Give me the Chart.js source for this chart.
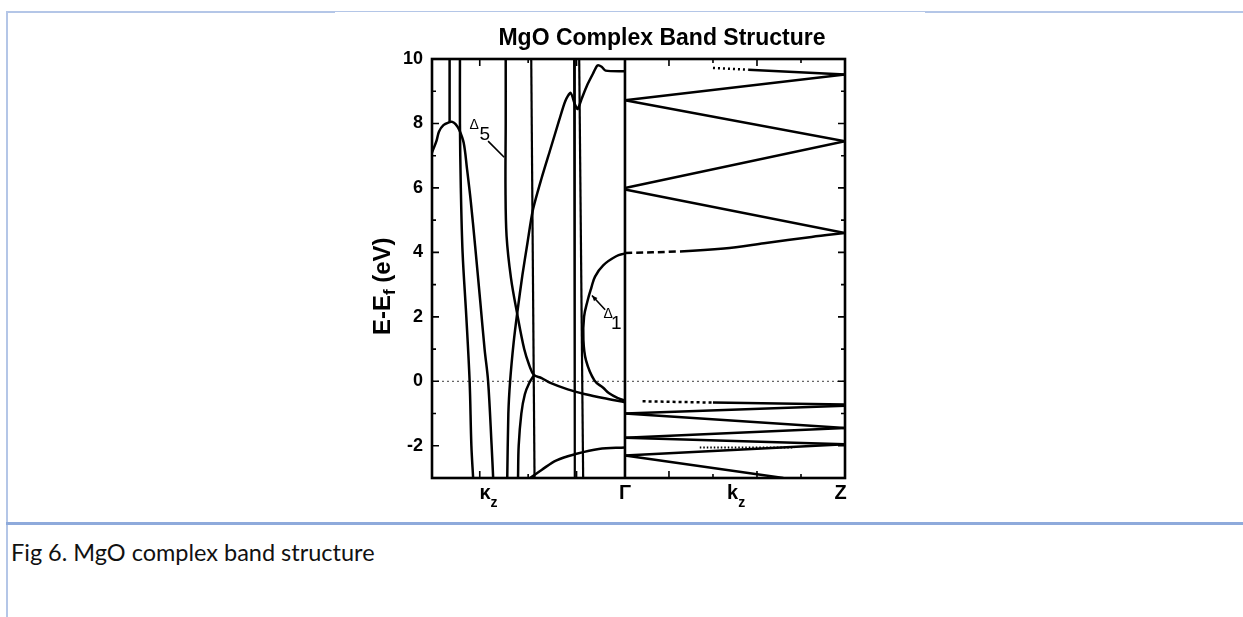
<!DOCTYPE html>
<html>
<head>
<meta charset="utf-8">
<title>MgO Complex Band Structure</title>
<script src="https://cdn.jsdelivr.net/npm/chart.js@4.4.1/dist/chart.umd.min.js"></script>
<style>
  html, body { margin: 0; padding: 0; background: #fff; }
  body { width: 1243px; height: 617px; position: relative; overflow: hidden; }
  .rule { position: absolute; background: #b4c6e7; }
  #chartBox { position: absolute; left: 300px; top: 15px; width: 660px; height: 500px; }
  #caption { position: absolute; left: 11px; top: 541px; font-family: Lato, 'Open Sans', sans-serif; font-size: 23.5px; line-height: 1; color: #111; }
</style>
</head>
<body>
<!-- document frame -->
<div class="rule" style="left:6px;top:11px;width:2px;height:606px"></div>
<div class="rule" style="left:6px;top:11px;width:329px;height:2px"></div>
<div class="rule" style="left:335px;top:11px;width:590px;height:1px"></div>
<div class="rule" style="left:925px;top:11px;width:318px;height:2px"></div>
<div class="rule" style="left:6px;top:522px;width:1237px;height:3px;background:#8eaadb"></div>

<div id="chartBox"><canvas id="bandChart" width="660" height="500"></canvas></div>
<div id="caption">Fig 6. MgO complex band structure</div>

<script>
// axis ranges (k: left of Γ is the complex branch, right of Γ is real k to Z)
const kMin = -0.877, kMax = 1;
const eMin = -3, eMax = 10;
const yTickValues = [-2, 0, 2, 4, 6, 8, 10];
const yMinorValues = [-3, -1, 1, 3, 5, 7, 9];
const xMajorTicks = [-0.66, -0.22, 0.2, 0.6];
const xMinorTicks = [-0.44, 0.4, 0.8];
const xLabelPos = [-0.62, 0, 0.505, 0.98];
const xLabelMain = ['κ', 'Γ', 'k', 'Z'];
const xLabelSub = ['z', '', 'z', ''];

// complex bands (left panel)
const archK = [-0.877, -0.857, -0.845, -0.825, -0.797, -0.785, -0.770, -0.753, -0.733, -0.718, -0.701, -0.681, -0.658, -0.638, -0.622, -0.606, -0.599];
const archE = [7.1, 7.45, 7.75, 7.95, 8.04, 8.05, 7.98, 7.8, 7.4, 6.6, 5.6, 4.2, 2.5, 1.0, 0.0, -2.0, -3.0];
const steepK = [-0.750, -0.750, -0.746, -0.738, -0.721, -0.706, -0.698, -0.690];
const steepE = [10, 8, 6, 4, 2, 0, -2, -3];
const stubK = [-0.797, -0.797];
const stubE = [10, 8.04];
const delta5K = [-0.542, -0.542, -0.543, -0.538, -0.518, -0.490, -0.458, -0.435, -0.414, -0.379, -0.339, -0.260, -0.179, -0.099, 0];
const delta5E = [10, 8, 6, 4.5, 3.2, 2.1, 1.0, 0.5, 0.2, 0.1, -0.05, -0.25, -0.4, -0.52, -0.65];
const riseK = [-0.535, -0.530, -0.522, -0.506, -0.490, -0.466, -0.443, -0.419, -0.379, -0.339, -0.299, -0.271, -0.247, -0.228, -0.215, -0.195, -0.171, -0.145, -0.125, -0.106, -0.088, 0];
const riseE = [-3, -1, 0, 1.2, 2.1, 3.3, 4.3, 5.3, 6.3, 7.2, 8.1, 8.7, 8.95, 8.6, 8.45, 8.8, 9.2, 9.55, 9.8, 9.76, 9.64, 9.62];
const wallAK = [-0.426, -0.411];
const wallBK = [-0.231, -0.228];
const wallCK = [-0.208, -0.190];
const wallE = [10, -3];
const hookK = [-0.486, -0.483, -0.471, -0.455, -0.435, -0.414];
const hookE = [-3, -2, -1, -0.4, -0.05, 0.18];
const lowK = [-0.431, -0.379, -0.311, -0.220, -0.119, 0];
const lowE = [-3, -2.75, -2.45, -2.25, -2.1, -2.05];
const delta1K = [0, -0.040, -0.099, -0.136, -0.153, -0.170, -0.186, -0.189, -0.177, -0.139, -0.099, -0.072, -0.032, 0];
const delta1E = [3.97, 3.88, 3.6, 3.25, 2.9, 2.5, 2.0, 1.3, 0.65, 0.03, -0.2, -0.37, -0.52, -0.6];

// real bands (right panel), straight from Γ to Z
const realK = [0, 1];
const realStartE = [8.72, 8.72, 6.0, 5.95, -1.0, -1.0, -1.75, -1.75, -2.3];
const realEndE = [9.52, 7.45, 7.45, 4.6, -0.76, -1.45, -1.45, -1.95, -1.95];
const bendK = [0, 0.25, 0.45, 0.632, 0.848, 1];
const bendE = [3.98, 4.03, 4.12, 4.28, 4.48, 4.6];
const topK = [0.4, 0.56, 1];
const topE = [9.72, 9.67, 9.52];
const shallowK = [0.08, 0.4, 1];
const shallowE = [-0.62, -0.66, -0.72];
const dropK = [0, 0.72];
const dropE = [-2.3, -3];
const faintK = [0.34, 0.77];
const faintE = [-2.05, -2.05];

// annotation anchors (data coords): symbol k, E, subscript k, E
const delta5Label = [-0.685, 7.95, -0.637, 7.65];
const delta5Leader = [-0.622, 7.45, -0.549, 6.95];
const delta1Label = [-0.076, 2.08, -0.040, 1.8];
const delta1Leader = [-0.09, 2.22, -0.15, 2.66];

function band(ks, es, extra) {
    return Object.assign({
        data: ks.map((k, i) => ({ x: k, y: es[i] })),
        borderColor: '#000',
        borderWidth: 2.5,
        pointRadius: 0,
        fill: false,
        tension: 0.35
    }, extra || {});
}

const firstDashed = dash => ({ borderDash: c => c.p0DataIndex === 0 ? dash : undefined });

const datasets = [
    band(archK, archE),
    band(steepK, steepE),
    band(stubK, stubE, { tension: 0 }),
    band(delta5K, delta5E),
    band(riseK, riseE, { tension: 0.25 }),
    band(wallAK, wallE, { tension: 0, borderWidth: 2.2 }),
    band(wallBK, wallE, { tension: 0, borderWidth: 2.2 }),
    band(wallCK, wallE, { tension: 0, borderWidth: 2.2 }),
    band(hookK, hookE),
    band(lowK, lowE),
    band(delta1K, delta1E, { tension: 0.4 }),
    band(bendK, bendE, { segment: firstDashed([7, 4]) }),
    band(topK, topE, { tension: 0, segment: firstDashed([2, 3]) }),
    band(shallowK, shallowE, { tension: 0, segment: firstDashed([3, 3]) }),
    band(dropK, dropE, { tension: 0 }),
    band(faintK, faintE, { tension: 0, borderWidth: 2, borderDash: [1.5, 2] })
];
realStartE.forEach((e0, i) => {
    datasets.push(band(realK, [e0, realEndE[i]], { tension: 0 }));
});

const FONT = 'Arial, "Liberation Sans", sans-serif';

// frame, inward ticks, zero line and the extra text
const bandDecor = {
    id: 'bandDecor',
    beforeDatasetsDraw(chart) {
        const { ctx, chartArea: a, scales: { y } } = chart;
        const y0 = y.getPixelForValue(0);
        ctx.save();
        ctx.strokeStyle = '#666';
        ctx.lineWidth = 1.2;
        ctx.setLineDash([2, 3]);
        ctx.beginPath();
        ctx.moveTo(a.left, y0);
        ctx.lineTo(a.right, y0);
        ctx.stroke();
        ctx.restore();
    },
    afterDatasetsDraw(chart) {
        const { ctx, chartArea: a, scales: { x, y } } = chart;
        ctx.save();
        ctx.strokeStyle = '#000';
        ctx.lineWidth = 2.6;
        ctx.strokeRect(a.left, a.top, a.right - a.left, a.bottom - a.top);
        const xg = x.getPixelForValue(0);
        ctx.beginPath();
        ctx.moveTo(xg, a.top);
        ctx.lineTo(xg, a.bottom);
        ctx.stroke();

        ctx.lineWidth = 1.6;
        ctx.beginPath();
        const yTick = (v, len) => {
            const py = y.getPixelForValue(v);
            ctx.moveTo(a.left, py); ctx.lineTo(a.left + len, py);
            ctx.moveTo(a.right, py); ctx.lineTo(a.right - len, py);
        };
        const xTick = (v, len) => {
            const px = x.getPixelForValue(v);
            ctx.moveTo(px, a.top); ctx.lineTo(px, a.top + len);
            ctx.moveTo(px, a.bottom); ctx.lineTo(px, a.bottom - len);
        };
        yTickValues.forEach(v => yTick(v, 7));
        yMinorValues.forEach(v => yTick(v, 4));
        xMajorTicks.forEach(v => xTick(v, 7));
        xMinorTicks.forEach(v => xTick(v, 4));
        ctx.stroke();

        // leader lines for the Δ labels
        ctx.lineWidth = 1.6;
        ctx.beginPath();
        ctx.moveTo(x.getPixelForValue(delta5Leader[0]), y.getPixelForValue(delta5Leader[1]));
        ctx.lineTo(x.getPixelForValue(delta5Leader[2]), y.getPixelForValue(delta5Leader[3]));
        const ax0 = x.getPixelForValue(delta1Leader[0]), ay0 = y.getPixelForValue(delta1Leader[1]);
        const ax1 = x.getPixelForValue(delta1Leader[2]), ay1 = y.getPixelForValue(delta1Leader[3]);
        ctx.moveTo(ax0, ay0);
        ctx.lineTo(ax1, ay1);
        ctx.stroke();
        const ang = Math.atan2(ay1 - ay0, ax1 - ax0);
        ctx.beginPath();
        ctx.moveTo(ax1, ay1);
        ctx.lineTo(ax1 - 6 * Math.cos(ang - 0.4), ay1 - 6 * Math.sin(ang - 0.4));
        ctx.lineTo(ax1 - 6 * Math.cos(ang + 0.4), ay1 - 6 * Math.sin(ang + 0.4));
        ctx.closePath();
        ctx.fillStyle = '#000';
        ctx.fill();
        ctx.restore();
    },
    afterDraw(chart) {
        const { ctx, chartArea: a, scales: { x, y } } = chart;
        ctx.save();
        ctx.fillStyle = '#000';
        ctx.textBaseline = 'alphabetic';

        // title
        ctx.font = 'bold 23px ' + FONT;
        ctx.textAlign = 'center';
        ctx.fillText('MgO Complex Band Structure', 662 - 300, a.top - 14);

        // x labels with subscripts
        ctx.textAlign = 'left';
        const mainFont = 'bold 20px ' + FONT;
        const subFont = 'bold 14px ' + FONT;
        xLabelPos.forEach((k, i) => {
            ctx.font = mainFont;
            const w1 = ctx.measureText(xLabelMain[i]).width;
            ctx.font = subFont;
            const w2 = xLabelSub[i] ? ctx.measureText(xLabelSub[i]).width : 0;
            const left = x.getPixelForValue(k) - (w1 + w2) / 2;
            const base = a.bottom + 21;
            ctx.font = mainFont;
            ctx.fillText(xLabelMain[i], left, base);
            if (xLabelSub[i]) {
                ctx.font = subFont;
                ctx.fillText(xLabelSub[i], left + w1, base + 8);
            }
        });

        // y title, rotated, with subscript f
        ctx.save();
        ctx.translate(a.left - 49, y.getPixelForValue(2.95));
        ctx.rotate(-Math.PI / 2);
        const big = 'bold 24px ' + FONT;
        const small = 'bold 17px ' + FONT;
        ctx.font = big;
        const p1 = 'E-E', p3 = ' (eV)';
        const w1 = ctx.measureText(p1).width, w3 = ctx.measureText(p3).width;
        ctx.font = small;
        const w2 = ctx.measureText('f').width;
        const sx = -(w1 + w2 + w3) / 2;
        ctx.textBaseline = 'middle';
        ctx.font = big;
        ctx.fillText(p1, sx, 0);
        ctx.font = small;
        ctx.fillText('f', sx + w1, 7);
        ctx.font = big;
        ctx.fillText(p3, sx + w1 + w2, 0);
        ctx.restore();

        // Δ5 and Δ1 markers
        ctx.textAlign = 'center';
        ctx.textBaseline = 'middle';
        [delta5Label, delta1Label].forEach((lab, i) => {
            ctx.font = '14px ' + FONT;
            ctx.fillText('Δ', x.getPixelForValue(lab[0]), y.getPixelForValue(lab[1]));
            ctx.font = '19px ' + FONT;
            ctx.fillText(i === 0 ? '5' : '1', x.getPixelForValue(lab[2]), y.getPixelForValue(lab[3]));
        });
        ctx.restore();
    }
};

new Chart(document.getElementById('bandChart'), {
    type: 'line',
    data: { datasets: datasets },
    options: {
        responsive: false,
        animation: false,
        layout: { padding: { left: 0, top: 44, right: 115, bottom: 0 } },
        plugins: { legend: { display: false }, tooltip: { enabled: false }, title: { display: false } },
        scales: {
            x: {
                type: 'linear', min: kMin, max: kMax,
                grid: { display: false, drawTicks: false },
                border: { display: false },
                ticks: { display: false },
                afterFit: s => { s.height = 37; }
            },
            y: {
                type: 'linear', min: eMin, max: eMax,
                grid: { display: false, drawTicks: false },
                border: { display: false },
                ticks: { color: '#000', padding: 9, font: { family: FONT, weight: 'bold', size: 18 } },
                afterBuildTicks: s => { s.ticks = yTickValues.map(v => ({ value: v })); },
                afterFit: s => { s.width = 132; }
            }
        }
    },
    plugins: [bandDecor]
});
</script>
</body>
</html>
